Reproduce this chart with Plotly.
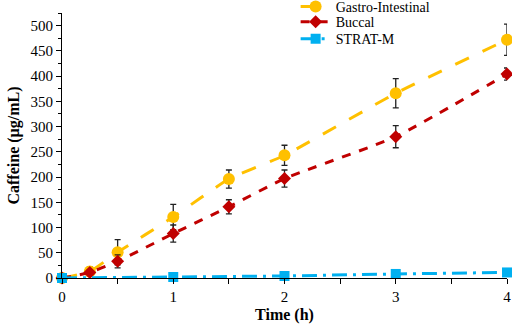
import plotly.graph_objects as go

time_gi = [0, 0.25, 0.5, 1, 1.5, 2, 3, 4]
gi = [0, 13, 51, 121, 196, 243, 366, 472]
gi_err = [0, 9, 25, 25, 18, 20, 29, 31]

time_bu = [0, 0.25, 0.5, 1, 1.5, 2, 3, 4]
buccal = [0, 11, 33, 88, 141, 197, 280, 404]
buccal_err = [0, 5, 13, 17, 14, 17, 22, 12]

time_st = [0, 1, 2, 3, 4]
stratm = [0, 2, 4, 8, 11]
stratm_err = [0, 1, 1, 1, 1]

font = "Times New Roman, Liberation Serif, serif"
fig = go.Figure()
fig.add_trace(go.Scatter(
    x=time_gi, y=gi, name="Gastro-Intestinal", mode="lines+markers", legend="legend",
    line=dict(color="#FFC000", width=3, dash="longdash", shape="spline", smoothing=0.5),
    marker=dict(symbol="circle", size=12, color="#FFC000"),
    error_y=dict(type="data", array=gi_err, color="#222222", thickness=1.3, width=3),
    cliponaxis=False))
fig.add_trace(go.Scatter(
    x=time_bu, y=buccal, name="Buccal", mode="lines+markers", legend="legend2",
    line=dict(color="#C00000", width=3, dash="dash", shape="spline", smoothing=0.5),
    marker=dict(symbol="diamond", size=10, color="#C00000"),
    error_y=dict(type="data", array=buccal_err, color="#222222", thickness=1.3, width=3),
    cliponaxis=False))
fig.add_trace(go.Scatter(
    x=time_st, y=stratm, name="STRAT-M", mode="lines+markers", legend="legend3",
    line=dict(color="#00B0F0", width=3, dash="longdashdot"),
    marker=dict(symbol="square", size=10, color="#00B0F0"),
    error_y=dict(type="data", array=stratm_err, color="#222222", thickness=1, width=2),
    cliponaxis=False))

tickfont = dict(family=font, size=15, color="black")
legfont = dict(size=14, family=font, color="black")
leg_x = 0.525
fig.update_layout(
    width=512, height=327,
    margin=dict(l=62, r=5, t=13, b=49, autoexpand=False),
    plot_bgcolor="white", paper_bgcolor="white",
    font=dict(family=font, size=15, color="black"),
    showlegend=True,
    legend=dict(x=leg_x, y=1.083, xanchor="left", yanchor="top",
                bgcolor="rgba(0,0,0,0)", font=legfont),
    legend2=dict(x=leg_x, y=1.026, xanchor="left", yanchor="top",
                 bgcolor="rgba(0,0,0,0)", font=legfont),
    legend3=dict(x=leg_x, y=0.962, xanchor="left", yanchor="top",
                 bgcolor="rgba(0,0,0,0)", font=legfont),
    xaxis=dict(range=[0, 4], tickvals=[0, 1, 2, 3, 4], showline=True, linecolor="black",
               linewidth=1, ticks="outside", ticklen=5, tickcolor="black", showgrid=False,
               zeroline=False, automargin=False, tickfont=tickfont,
               minor=dict(dtick=0.5, ticks="outside", ticklen=5, tickcolor="black"),
               title=dict(text="<b>Time (h)</b>", standoff=4, font=dict(size=16, family=font))),
    yaxis=dict(range=[0, 525], tickvals=[0, 50, 100, 150, 200, 250, 300, 350, 400, 450, 500],
               showline=True, linecolor="black", linewidth=1, ticks="outside", ticklen=5,
               tickcolor="black", showgrid=False, zeroline=False, automargin=False,
               tickfont=tickfont,
               minor=dict(dtick=25, ticks="outside", ticklen=3, tickcolor="black"),
               title=dict(text="<b>Caffeine (µg/mL)</b>", standoff=6, font=dict(size=16, family=font))),
)
fig.write_html("out.html", config={"displayModeBar": False},
               post_script="document.body.style.margin='0';document.body.style.overflow='hidden';")
